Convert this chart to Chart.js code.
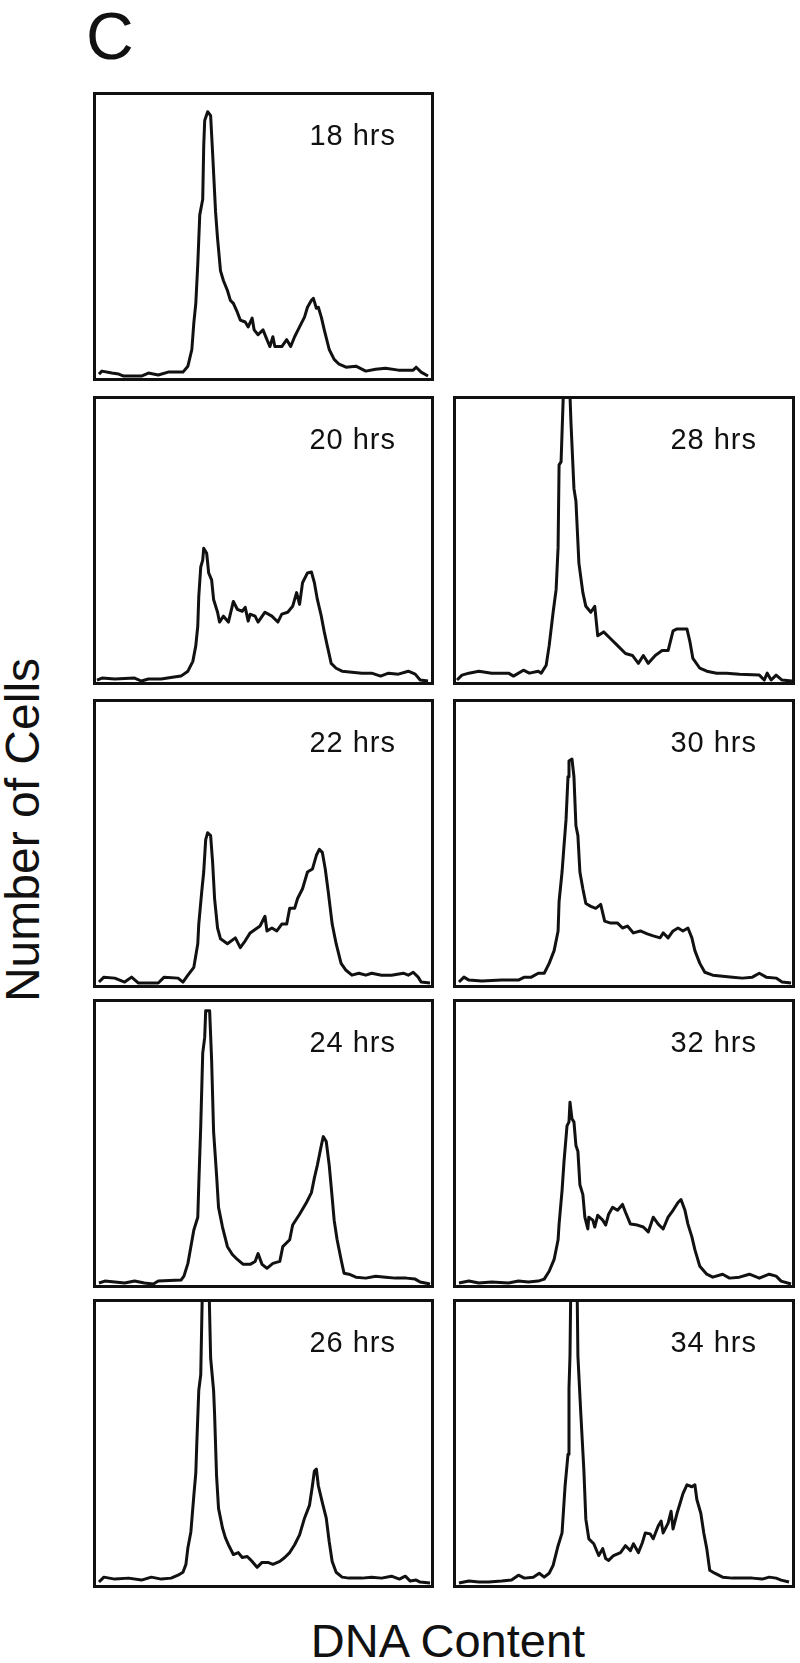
<!DOCTYPE html>
<html>
<head>
<meta charset="utf-8">
<script src="https://cdn.jsdelivr.net/npm/chart.js@4.4.1/dist/chart.umd.min.js"></script>
<style>
  html, body { margin: 0; padding: 0; background: #fff; }
  body { width: 800px; height: 1663px; position: relative; overflow: hidden;
         font-family: "Liberation Sans", Arial, Helvetica, sans-serif; color: #111; }
  .panel { position: absolute; box-sizing: border-box; border: 3px solid #111; background: #fff; }
  .panel canvas { display: block; }
  .tag { position: absolute; top: 26px; right: 35px; font-size: 29px; line-height: 1;
         letter-spacing: 1px; white-space: nowrap; }
  .big { position: absolute; line-height: 1; white-space: nowrap; }
</style>
</head>
<body>
<div class="big" style="left:86px; top:3px; font-size:66px;">C</div>
<div class="big" style="left:-177px; top:806px; width:400px; height:48px; text-align:center; font-size:48px; transform:rotate(-90deg);">Number of Cells</div>
<div class="big" style="left:248px; top:1617px; width:400px; text-align:center; font-size:47px;">DNA Content</div>

<script>
// DNA content (channel) and number of cells
const dna18 = [3,6,16,23,28,46,53,63,73,88,93,97,99,101,103,105,108,109,110,113,116,118,121,123,126,129,133,136,139,143,146,151,154,158,160,164,169,173,176,179,181,188,193,197,201,206,211,214,218,220,223,225,228,231,236,241,246,253,263,273,283,293,306,321,324,329,336];
const cells18 = [4,7,5,4,2,2,5,3,6,6,12,29,56,76,116,166,182,236,262,271,267,229,169,142,109,99,89,79,76,67,59,57,52,61,49,44,49,39,32,42,32,32,39,32,42,52,62,72,79,81,71,72,62,49,29,19,14,11,12,7,9,10,8,8,11,6,2];

const dna20 = [1,6,19,39,46,53,66,79,86,93,98,101,103,104,106,108,109,112,114,117,119,123,125,129,134,139,143,148,151,154,156,161,164,171,178,184,188,194,199,203,206,209,214,218,221,224,228,231,234,238,243,249,259,269,279,288,296,306,316,323,328,336];
const cells20 = [2,4,3,4,1,3,3,5,6,11,21,37,57,87,117,124,136,131,111,104,84,71,61,67,61,82,74,72,76,62,69,67,61,71,67,61,69,71,77,91,79,101,111,112,101,84,67,51,37,19,14,11,10,9,9,6,9,8,11,8,2,1];

const dna22 = [3,8,19,29,36,43,63,69,83,88,93,99,103,104,107,109,111,113,116,118,120,123,126,133,141,146,151,156,166,171,173,178,183,188,193,196,201,204,209,214,219,223,226,229,232,235,239,243,248,253,259,266,273,279,289,299,311,316,321,326,329,338];
const cells22 = [3,8,7,3,8,2,2,8,7,3,10,18,42,62,95,115,148,155,152,125,88,58,47,42,48,38,45,53,60,70,55,58,55,62,62,78,78,88,98,115,118,132,138,135,118,95,62,42,22,15,10,12,10,12,10,10,12,10,13,8,3,2];

const dna24 = [3,9,19,29,39,49,58,63,86,89,93,96,99,103,104,106,108,110,111,115,117,119,122,124,128,133,138,143,149,156,161,164,168,173,179,186,189,196,199,206,213,218,221,224,228,230,233,236,239,241,244,248,251,256,263,273,283,293,303,314,323,328,338];
const cells24 = [2,4,3,2,4,2,1,4,5,9,22,39,56,69,102,162,236,252,279,279,229,156,112,79,59,39,31,26,21,21,24,32,21,17,22,24,39,46,61,72,84,94,109,122,142,151,146,122,89,66,46,26,12,11,8,7,9,8,7,7,6,3,1];

const dna26 = [3,8,19,33,46,56,66,76,83,88,91,93,96,99,101,102,104,106,108,114,116,119,120,122,124,128,131,134,139,144,148,153,158,163,168,174,179,186,191,196,201,206,211,216,219,221,223,225,229,233,236,239,243,249,256,269,279,289,299,307,313,318,324,328,338];
const cells26 = [3,8,6,7,5,8,6,7,10,13,21,38,54,91,114,144,198,214,320,320,231,198,174,111,78,58,48,41,31,33,28,29,24,18,23,23,21,24,28,33,41,51,68,81,101,116,118,101,84,68,44,24,13,8,7,7,8,7,9,6,9,4,5,3,2];

const dna28 = [1,6,13,23,36,53,58,68,74,83,86,91,94,98,101,103,104,106,108,109,114,116,119,121,124,128,131,136,140,143,149,156,163,171,178,184,189,194,201,208,214,219,223,233,236,239,246,253,263,273,286,306,311,314,318,323,329,339];
const cells28 = [2,7,9,11,9,9,6,12,9,11,9,17,37,71,94,137,221,224,284,320,320,264,197,184,121,91,77,71,77,47,51,44,37,29,27,19,27,19,27,32,32,52,54,54,41,24,14,11,9,9,8,7,2,9,2,7,2,1];

const dna30 = [3,8,13,26,46,63,69,76,83,89,94,99,103,104,107,109,111,113,114,117,119,121,123,125,128,131,136,141,146,150,156,163,168,173,179,186,193,199,206,209,214,219,224,229,234,238,241,246,251,259,269,279,289,299,306,313,323,329,338];
const cells30 = [3,8,5,4,5,5,8,8,12,12,22,35,55,85,115,142,168,212,228,230,212,162,152,115,98,83,80,78,82,65,63,63,58,60,53,55,52,50,48,53,48,55,58,55,58,48,35,22,13,10,9,8,7,8,12,8,7,3,2];

const dna32 = [3,13,23,36,53,63,73,83,89,94,99,103,104,107,109,112,114,115,117,119,121,123,125,128,130,133,134,138,140,143,148,151,154,158,163,168,171,176,183,189,194,199,204,209,214,219,224,227,231,234,238,241,246,253,259,269,276,286,296,306,316,323,328,338];
const cells32 = [2,4,2,3,2,4,3,4,6,14,26,46,62,96,126,162,166,186,169,166,142,136,102,92,69,57,69,66,59,71,66,61,72,79,76,82,74,62,61,59,54,69,62,57,69,76,84,87,76,62,49,36,19,11,8,11,7,8,11,7,11,9,4,1];

const dna34 = [3,13,23,33,46,56,63,69,78,84,89,94,98,103,107,110,113,114,115,116,122,123,126,129,131,134,139,144,148,151,154,159,166,171,176,179,184,188,191,196,199,204,207,209,214,217,219,223,226,229,233,238,241,243,247,250,253,256,261,269,279,289,299,309,316,323,328,336];
const cells34 = [2,4,3,3,4,5,10,7,8,12,8,12,20,40,53,100,133,200,233,320,320,233,173,117,67,47,42,30,37,27,25,30,33,40,35,42,33,43,53,52,47,60,65,53,63,75,57,73,83,93,102,100,102,87,73,53,37,15,12,8,7,7,7,6,8,7,5,3];

const panels = [
  { label: '18 hrs', dna: dna18, cells: cells18, col: 0, row: 0 },
  { label: '20 hrs', dna: dna20, cells: cells20, col: 0, row: 1 },
  { label: '22 hrs', dna: dna22, cells: cells22, col: 0, row: 2 },
  { label: '24 hrs', dna: dna24, cells: cells24, col: 0, row: 3 },
  { label: '26 hrs', dna: dna26, cells: cells26, col: 0, row: 4 },
  { label: '28 hrs', dna: dna28, cells: cells28, col: 1, row: 1 },
  { label: '30 hrs', dna: dna30, cells: cells30, col: 1, row: 2 },
  { label: '32 hrs', dna: dna32, cells: cells32, col: 1, row: 3 },
  { label: '34 hrs', dna: dna34, cells: cells34, col: 1, row: 4 }
];

// panel boxes
const colLeft = [93, 453];
const colWidth = [341, 342];
const rowTop = [92, 396, 699, 999, 1299];
const rowHeight = 289;
const frame = 3;

panels.forEach(p => {
  const w = colWidth[p.col];
  const box = document.createElement('div');
  box.className = 'panel';
  box.style.left = colLeft[p.col] + 'px';
  box.style.top = rowTop[p.row] + 'px';
  box.style.width = w + 'px';
  box.style.height = rowHeight + 'px';

  const canvas = document.createElement('canvas');
  canvas.width = w - 2 * frame;
  canvas.height = rowHeight - 2 * frame;
  box.appendChild(canvas);

  const tag = document.createElement('div');
  tag.className = 'tag';
  tag.textContent = p.label;
  box.appendChild(tag);
  document.body.appendChild(box);

  new Chart(canvas.getContext('2d'), {
    type: 'line',
    data: {
      datasets: [{
        data: p.dna.map((x, i) => ({ x: x, y: p.cells[i] })),
        borderColor: '#111',
        borderWidth: 3,
        borderJoinStyle: 'round',
        pointRadius: 0,
        tension: 0,
        fill: false
      }]
    },
    options: {
      responsive: false,
      animation: false,
      events: [],
      layout: { padding: 0 },
      plugins: { legend: { display: false }, tooltip: { enabled: false } },
      scales: {
        x: { type: 'linear', min: 0, max: 339, display: false },
        y: { min: 0, max: 288, display: false }
      }
    }
  });
});
</script>
</body>
</html>
